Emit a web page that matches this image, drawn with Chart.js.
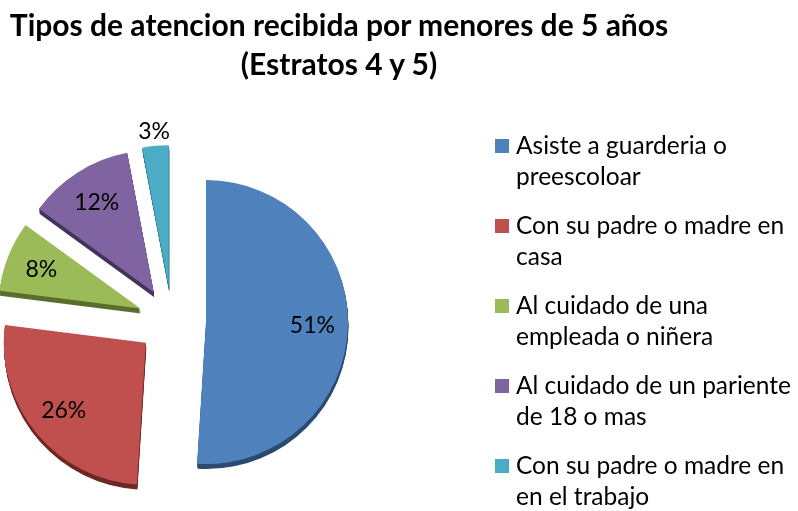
<!DOCTYPE html>
<html>
<head>
<meta charset="utf-8">
<script src="https://cdn.jsdelivr.net/npm/chart.js@4"></script>
<style>
html, body { margin: 0; padding: 0; background: #fff; overflow: hidden; }
#wrap { position: relative; width: 798px; height: 511px; }
#c { position: absolute; left: 0; top: 0; }
#title { position: absolute; left: 339px; top: 5px; transform: translateX(-50%); text-align: center;
         white-space: nowrap; font: bold 30px/39px Lato, sans-serif; color: #000; }
#legend { position: absolute; left: 495px; top: 130px; font: 24.5px/30.5px Lato, sans-serif; color: #000; }
.item { position: relative; padding-left: 21px; margin-bottom: 19px; white-space: nowrap; }
.sw { position: absolute; left: 0; top: 9px; width: 14px; height: 14px; }
</style>
</head>
<body>
<div id="wrap">
  <canvas id="c" width="798" height="511"></canvas>
  <div id="title"></div>
  <div id="legend"></div>
</div>
<script>
// chart data
const titleLines = ['Tipos de atencion recibida por menores de 5 años', '(Estratos 4 y 5)'];
const labels = [
    ['Asiste a guarderia o', 'preescoloar'],
    ['Con su padre o madre en', 'casa'],
    ['Al cuidado de una', 'empleada o niñera'],
    ['Al cuidado de un pariente', 'de 18 o mas'],
    ['Con su padre o madre en', 'en el trabajo'],
];
const values = [51, 26, 8, 12, 3];
const colors = ['#4F81BD', '#C0504D', '#9BBB59', '#8064A2', '#4BACC6'];
const depthColors = ['#2B4A70', '#6E2826', '#5A6E2E', '#43345A', '#276B7D'];

const SHIFT = 34;   // explode distance, px
const DEPTH = 5;    // 3d edge thickness, px

document.getElementById('title').innerHTML = titleLines.join('<br>');
const legendEl = document.getElementById('legend');
labels.forEach((lines, i) => {
    const item = document.createElement('div');
    item.className = 'item';
    item.innerHTML = '<span class="sw" style="background:' + colors[i] + '"></span>' + lines.join('<br>');
    legendEl.appendChild(item);
});

/**
 * Draws each slice pulled out from the center with a dark bottom edge,
 * then the percentage labels (in afterDraw, since the dataset draw is skipped).
 */
const explodePlugin = {
    id: 'explode',
    beforeDatasetsDraw: function(chart) {
        const ctx = chart.ctx;
        const arcs = chart.getDatasetMeta(0).data;
        arcs.forEach((arc, i) => {
            const {x, y, startAngle, endAngle, outerRadius} =
                arc.getProps(['x', 'y', 'startAngle', 'endAngle', 'outerRadius']);
            const mid = (startAngle + endAngle) / 2;
            const dx = Math.cos(mid) * SHIFT;
            const dy = Math.sin(mid) * SHIFT;
            ctx.save();
            ctx.fillStyle = depthColors[i];
            for (let k = DEPTH; k > 0; --k) {
                const cx = x + dx + k * 0.1;
                const cy = y + dy + k;
                ctx.beginPath();
                ctx.moveTo(cx, cy);
                ctx.arc(cx, cy, outerRadius, startAngle, endAngle);
                ctx.closePath();
                ctx.fill();
            }
            ctx.translate(dx, dy);
            arc.draw(ctx);
            ctx.restore();
        });
        return false;
    },
    afterDraw: function(chart) {
        const ctx = chart.ctx;
        const arcs = chart.getDatasetMeta(0).data;
        ctx.save();
        ctx.font = '23px Lato, sans-serif';
        ctx.fillStyle = '#000';
        ctx.textAlign = 'center';
        ctx.textBaseline = 'middle';
        arcs.forEach((arc, i) => {
            const {x, y, startAngle, endAngle, outerRadius} =
                arc.getProps(['x', 'y', 'startAngle', 'endAngle', 'outerRadius']);
            const mid = (startAngle + endAngle) / 2;
            const dist = SHIFT + outerRadius * (values[i] < 5 ? 1.1 : 0.75);
            ctx.fillText(values[i] + '%', x + Math.cos(mid) * dist, y + Math.sin(mid) * dist);
        });
        ctx.restore();
    },
};

new Chart(document.getElementById('c'), {
    type: 'pie',
    data: {
        labels: labels,
        datasets: [{
            data: values,
            backgroundColor: colors,
            borderWidth: 0,
            radius: 142,
        }],
    },
    options: {
        responsive: false,
        animation: false,
        layout: {
            padding: {left: 0, right: 454, top: 132, bottom: 1},
        },
        plugins: {
            legend: {display: false},
            title: {display: false},
            tooltip: {enabled: false},
        },
    },
    plugins: [explodePlugin],
});
</script>
</body>
</html>
